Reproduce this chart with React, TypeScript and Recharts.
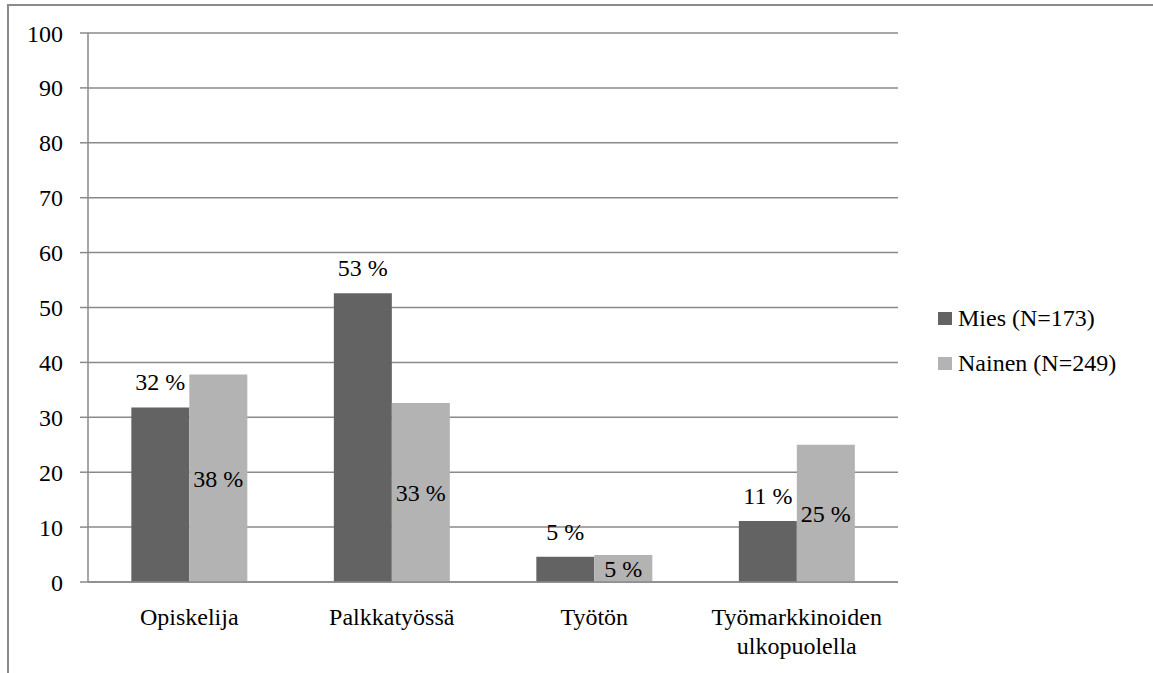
import React from "react";
import { BarChart, Bar, XAxis, YAxis, CartesianGrid, LabelList } from "recharts";

const categories = ["Opiskelija", "Palkkatyössä", "Työtön", "Työmarkkinoiden\nulkopuolella"];
const miesValues = [31.8, 52.6, 4.6, 11.1];
const naisetValues = [37.8, 32.6, 4.9, 25.0];
const seriesNames = ["Mies (N=173)", "Nainen (N=249)"];
const yTicks = [0, 10, 20, 30, 40, 50, 60, 70, 80, 90, 100];
const boundaryTicks = [0, 1, 2, 3, 4];

const data = categories.map((c, i) => ({ name: c, mies: miesValues[i], nainen: naisetValues[i] }));

const FONT = "'Liberation Serif'";
const FS = 24;
const LINE = "#8a8a8a";
const DARK = "#636363";
const LIGHT = "#b3b3b3";
const seriesColors = [DARK, LIGHT];

const fmt = (v: any) => `${Math.round(Number(v))} %`;

const SText = ({ x, y, anchor, dy, children }: any) => (
  <text x={x} y={y} dy={dy} textAnchor={anchor} fill="#000" fontFamily={FONT} fontSize={FS}>
    {children}
  </text>
);

const CatTick = (props: any) => {
  const { x, y, payload } = props;
  const lines = String(payload.value).split("\n");
  return (
    <text x={x} y={y} textAnchor="middle" fill="#000" fontFamily={FONT} fontSize={FS}>
      {lines.map((l, i) => (
        <tspan key={i} x={x} dy={i === 0 ? "0.75em" : "1.22em"}>
          {l}
        </tspan>
      ))}
    </text>
  );
};

const YTick = (props: any) => {
  const { x, y, payload } = props;
  return (
    <SText x={x} y={y} anchor="end" dy="0.355em">
      {payload.value}
    </SText>
  );
};

const TopLabel = (props: any) => {
  const { x, y, width, value } = props;
  return (
    <SText x={Number(x) + Number(width) / 2} y={Number(y) - 17} anchor="middle" dy="0">
      {fmt(value)}
    </SText>
  );
};

const CenterLabel = (props: any) => {
  const { x, y, width, height, value } = props;
  return (
    <SText x={Number(x) + Number(width) / 2} y={Number(y) + Number(height) / 2} anchor="middle" dy="0.355em">
      {fmt(value)}
    </SText>
  );
};

export default function App() {
  return (
    <div style={{ position: "absolute", left: 0, top: 0, width: 1153, height: 673, background: "#fff", overflow: "hidden" }}>
      <div
        style={{
          position: "absolute",
          left: 7,
          top: 4,
          width: 1146,
          height: 669,
          borderTop: `2px solid ${LINE}`,
          borderLeft: `2px solid ${LINE}`,
          boxSizing: "border-box",
        }}
      />
      <div style={{ position: "absolute", left: 0, top: 0 }}>
        <BarChart
          width={1153}
          height={673}
          data={data}
          margin={{ top: 33, right: 255, bottom: 11, left: 0 }}
          barCategoryGap="21.4%"
          barGap={0}
        >
          <CartesianGrid vertical={false} stroke={LINE} strokeWidth={1.5} />
          <XAxis
            xAxisId={0}
            type="number"
            domain={[0, 4]}
            allowDataOverflow
            ticks={boundaryTicks}
            tickSize={8}
            tickFormatter={() => ""}
            axisLine={false}
            tickLine={{ stroke: LINE, strokeWidth: 1.5 }}
            height={0}
          />
          <XAxis
            xAxisId="cat"
            dataKey="name"
            type="category"
            height={80}
            tickSize={0}
            tickMargin={25}
            tickLine={false}
            axisLine={{ stroke: LINE, strokeWidth: 1.5 }}
            tick={<CatTick />}
            interval={0}
          />
          <YAxis
            width={88}
            domain={[0, 100]}
            ticks={yTicks}
            tickSize={8}
            tickMargin={17}
            axisLine={{ stroke: LINE, strokeWidth: 1.5 }}
            tickLine={{ stroke: LINE, strokeWidth: 1.5 }}
            tick={<YTick />}
          />
          <Bar xAxisId="cat" dataKey="mies" name={seriesNames[0]} fill={DARK} isAnimationActive={false}>
            <LabelList dataKey="mies" content={<TopLabel />} />
          </Bar>
          <Bar xAxisId="cat" dataKey="nainen" name={seriesNames[1]} fill={LIGHT} isAnimationActive={false}>
            <LabelList dataKey="nainen" content={<CenterLabel />} />
          </Bar>
        </BarChart>
      </div>
      <div style={{ position: "absolute", left: 938, top: 296, color: "#000" }}>
        {seriesNames.map((n, i) => (
          <div key={i} style={{ display: "flex", alignItems: "center", height: 45, whiteSpace: "nowrap" }}>
            <span style={{ display: "inline-block", width: 14, height: 13, background: seriesColors[i], marginRight: 6 }} />
            <span style={{ fontFamily: FONT, fontSize: FS }}>{n}</span>
          </div>
        ))}
      </div>
    </div>
  );
}
